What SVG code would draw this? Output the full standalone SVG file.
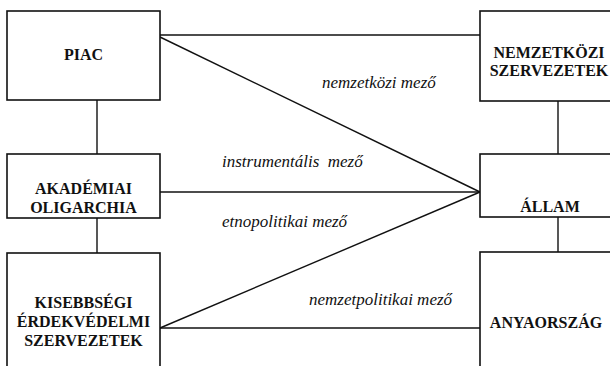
<svg xmlns="http://www.w3.org/2000/svg" width="610" height="366" viewBox="0 0 610 366">
<style>
.box{fill:#fff;stroke:#111;stroke-width:1.6}
.nt{font-family:'Liberation Serif','Times New Roman',serif;font-weight:bold;font-size:16px;fill:#111;text-anchor:middle}
.lbl{font-family:'Liberation Serif','Times New Roman',serif;font-style:italic;font-size:17px;fill:#111;white-space:pre}
.ln{stroke:#111;stroke-width:1.4;fill:none}
</style>
<rect width="610" height="366" fill="#fff"/>
<g id="connectors">
<line class="ln" x1="160" y1="35" x2="480" y2="35"/>
<line class="ln" x1="160" y1="37" x2="480" y2="192"/>
<line class="ln" x1="160" y1="192" x2="480" y2="192"/>
<line class="ln" x1="160" y1="328" x2="480" y2="192"/>
<line class="ln" x1="160" y1="328" x2="480" y2="328"/>
<line class="ln" x1="97" y1="100" x2="97" y2="154"/>
<line class="ln" x1="97" y1="218" x2="97" y2="253"/>
<line class="ln" x1="558" y1="101" x2="558" y2="154"/>
<line class="ln" x1="558" y1="217" x2="558" y2="252"/>
</g>
<g id="labels">
<text class="lbl" x="322" y="88">nemzetközi mező</text>
<text class="lbl" x="222" y="167">instrumentális  mező</text>
<text class="lbl" x="222" y="227">etnopolitikai mező</text>
<text class="lbl" x="309" y="305">nemzetpolitikai mező</text>
</g>
<g id="piac">
<rect class="box" x="7" y="11" width="153" height="89"/>
<text class="nt" x="83.5" y="60">PIAC</text>
</g>
<g id="akademiai">
<rect class="box" x="7" y="154" width="153" height="64"/>
<text class="nt" x="83.5" y="194">AKADÉMIAI</text>
<text class="nt" x="83.5" y="213">OLIGARCHIA</text>
</g>
<g id="kisebbsegi">
<rect class="box" x="7" y="253" width="153" height="130"/>
<text class="nt" x="83.5" y="308">KISEBBSÉGI</text>
<text class="nt" x="83.5" y="327">ÉRDEKVÉDELMI</text>
<text class="nt" x="83.5" y="346">SZERVEZETEK</text>
</g>
<g id="nemzetkozi">
<rect class="box" x="480" y="11" width="153" height="90"/>
<text class="nt" x="549" y="58">NEMZETKÖZI</text>
<text class="nt" x="549" y="76">SZERVEZETEK</text>
</g>
<g id="allam">
<rect class="box" x="480" y="154" width="153" height="63"/>
<text class="nt" x="550" y="212">ÁLLAM</text>
</g>
<g id="anyaorszag">
<rect class="box" x="480" y="252" width="153" height="130"/>
<text class="nt" x="546" y="328">ANYAORSZÁG</text>
</g>
</svg>
